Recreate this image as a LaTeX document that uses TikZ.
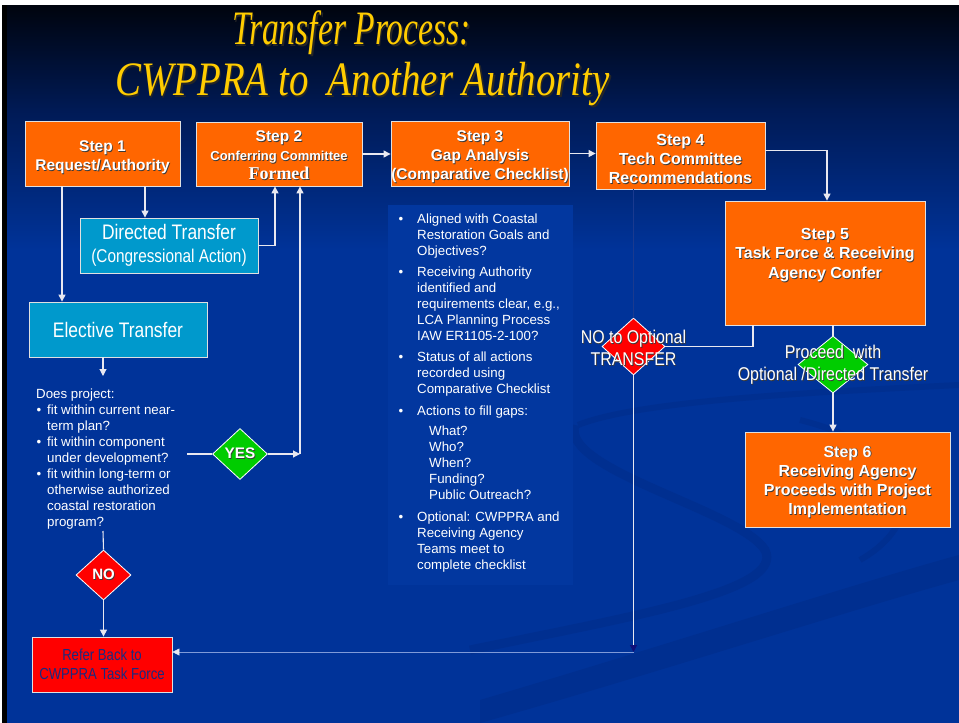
\documentclass[tikz,border=0pt]{standalone}
\usepackage{fontspec}
\setmainfont{Liberation Sans}
\newfontfamily\ttlfont{Liberation Serif}
\usetikzlibrary{arrows.meta,shapes.geometric,calc}
\definecolor{orangec}{HTML}{FF6600}
\definecolor{cyanc}{HTML}{0099CC}
\definecolor{redc}{HTML}{FF0000}
\definecolor{greenc}{HTML}{00CC00}
\definecolor{gold}{HTML}{FFCC00}
\definecolor{bgblue}{HTML}{003399}
\definecolor{bgmid}{HTML}{001A55}
\definecolor{bgtop}{HTML}{00040E}
\definecolor{linec}{HTML}{E8E8F0}
\definecolor{boxline}{HTML}{E0E0E0}
\definecolor{shadc}{HTML}{3A3A3A}
\definecolor{referc}{HTML}{1A2A80}
\definecolor{faint}{HTML}{1A3A8F}
\definecolor{thinc}{HTML}{7F9AD8}
\definecolor{navyhead}{HTML}{10107A}
\definecolor{panelc}{HTML}{02379F}
\definecolor{swoosh}{HTML}{002F90}
\newcommand\shd[1]{\leavevmode\rlap{\kern0.8pt\raisebox{-0.8pt}{\textcolor{shadc}{#1}}}#1}
\newcommand\shdt[1]{\leavevmode\rlap{\kern2pt\raisebox{-2pt}{\textcolor{black!85}{#1}}}#1}
\newcommand\nrw[2]{\scalebox{#1}[1]{#2}}
\begin{document}
\begin{tikzpicture}[x=1pt,y=-1pt,
 stepbox/.style={draw=boxline,line width=0.8pt,fill=orangec,inner sep=0pt},
 steptext/.style={text=white,font=\bfseries\fontsize{15.5}{19}\selectfont,align=center,inner sep=0pt},
 cyanbox/.style={draw=boxline,line width=0.8pt,fill=cyanc,text=white,align=center,inner sep=0pt},
 dia/.style={diamond,draw=white,line width=0.8pt,inner sep=0pt},
 arr/.style={draw=linec,line width=1.1pt,-{Triangle[width=7pt,length=7pt]}},
 conn/.style={draw=linec,line width=1.1pt},
 btext/.style={text=white,font=\fontsize{13.3}{16}\selectfont,inner sep=0pt,anchor=base west},
 bul/.style={text=white,font=\fontsize{13.3}{16}\selectfont,inner sep=0pt,anchor=base},
 lbl/.style={text=white,align=center,inner sep=0pt,font=\fontsize{18.5}{22}\selectfont}]
\useasboundingbox (0,0) rectangle (959,723);
% background
\fill[white] (0,0) rectangle (959,723);
\fill[black] (2,5) rectangle (7,723);
\shade[top color=bgtop,bottom color=bgmid] (7,5) rectangle (959,110);
\shade[top color=bgmid,bottom color=bgblue] (7,109.5) rectangle (959,250);
\fill[bgblue] (7,249.5) rectangle (959,723);
% swooshes
\fill[swoosh] (480,700) .. controls (650,650) and (850,585) .. (959,555) -- (959,580) .. controls (850,610) and (650,675) .. (480,723) -- cycle;
\draw[swoosh,line width=9pt] (575,425) .. controls (560,470) and (740,510) .. (765,550) .. controls (785,590) and (640,615) .. (470,650);
\draw[swoosh,line width=6pt] (578,425) .. controls (640,400) and (820,392) .. (959,385);
\draw[swoosh,line width=6pt] (800,420) .. controls (920,450) and (930,520) .. (860,560);
% panel behind step 3 bullets
\fill[panelc] (388,205) rectangle (573,585);
% title
\node[anchor=base west,inner sep=0,text=gold] (title1) at (232,44)
  {\fontsize{48}{48}\ttlfont\itshape\nrw{0.70}{\shdt{Transfer Process:}}};
\node[anchor=base west,inner sep=0,text=gold] (title2) at (115,95)
  {\fontsize{48}{48}\ttlfont\itshape\nrw{0.81}{\shdt{CWPPRA to\ \ Another Authority}}};
% step boxes
\node[stepbox,minimum width=155pt,minimum height=65pt] (s1) at (102.5,153.5) {};
\node[steptext] (s1t) at (102.5,157.5) {\shd{Step 1}\\\shd{Request/Authority}};
\node[stepbox,minimum width=166pt,minimum height=64pt] (s2) at (279,154) {};
\node[steptext] (s2t) at (279,156)
  {\shd{Step 2}\\{\fontsize{13}{17}\selectfont\shd{Conferring Committee}}\\{\ttlfont\fontsize{18}{19}\selectfont\shd{Formed}}};
\node[stepbox,minimum width=178pt,minimum height=65pt] (s3) at (480,153.5) {};
\node[steptext] (s3t) at (480,157.5) {\shd{Step 3}\\\shd{Gap Analysis}\\\shd{(Comparative Checklist)}};
\node[stepbox,minimum width=169pt,minimum height=67pt] (s4) at (680.5,155.5) {};
\node[steptext,font=\bfseries\fontsize{16}{19}\selectfont] (s4t) at (680.5,159.5)
  {\shd{Step 4}\\\shd{Tech Committee}\\\shd{Recommendations}};
\node[stepbox,minimum width=200pt,minimum height=124pt] (s5) at (825,263) {};
\node[steptext,font=\bfseries\fontsize{16}{19.5}\selectfont] (s5t) at (825,255.5)
  {\shd{Step 5}\\\shd{Task Force \& Receiving}\\\shd{Agency Confer}};
\node[stepbox,minimum width=205pt,minimum height=95pt] (s6) at (847.5,479.5) {};
\node[steptext,font=\bfseries\fontsize{16}{19.3}\selectfont] (s6t) at (847.5,482.5)
  {\shd{Step 6}\\\shd{Receiving Agency}\\\shd{Proceeds with Project}\\\shd{Implementation}};
% cyan boxes
\node[cyanbox,minimum width=178pt,minimum height=55pt] (dt) at (169,245.5)
  {{\fontsize{21}{24}\selectfont\nrw{0.83}{Directed Transfer}}\\[9pt]{\fontsize{18.5}{22}\selectfont\nrw{0.83}{(Congressional Action)}}};
\node[cyanbox,minimum width=178pt,minimum height=55pt] (el) at (118,329.5)
  {\fontsize{21}{24}\selectfont\nrw{0.83}{Elective Transfer}};
% refer back
\node[draw=boxline,line width=0.8pt,fill=redc,text=referc,align=center,inner sep=0pt,
  minimum width=140pt,minimum height=55pt,font=\fontsize{16}{19}\selectfont] (rb) at (102,664.5)
  {\nrw{0.82}{Refer Back to}\\\nrw{0.82}{CWPPRA Task Force}};
% diamonds
\node[dia,fill=greenc,minimum width=55pt,minimum height=51pt,text=white,font=\bfseries\fontsize{15.3}{17}\selectfont] (yes) at (240,454) {\shd{YES}};
\node[dia,fill=redc,minimum width=55pt,minimum height=50pt,text=white,font=\bfseries\fontsize{15}{17}\selectfont] (no) at (103.5,575) {\shd{NO}};
\node[dia,fill=redc,minimum width=63pt,minimum height=57pt] (noopt) at (633.5,346.5) {};
\node[dia,fill=greenc,minimum width=70pt,minimum height=57pt] (go) at (833,364.5) {};
% "Does project" text
\node[btext] (dp0) at (36,398.5) {Does project:};
\foreach \yy/\txt [count=\i] in {414.5/fit within current near-,430.5/term plan?,446.5/fit within component,462.5/under development?,478.5/fit within long-term or,494.5/otherwise authorized,510.5/coastal restoration,526.5/program?}
  \node[btext] (dp\i) at (47,\yy) {\txt};
\foreach \yy [count=\i] in {414.5,446.5,478.5}
  \node[bul] (dpb\i) at (39,\yy) {\textbullet};
% step 3 bullets
\foreach \yy/\xx/\txt [count=\i] in {223.5/417/Aligned with Coastal,239.5/417/Restoration Goals and,255.5/417/Objectives?,
  276.2/417/Receiving Authority,292.2/417/identified and,308.2/417/{requirements clear, e.g.,},324.2/417/LCA Planning Process,340.2/417/IAW ER1105-2-100?,
  361.2/417/Status of all actions,377.2/417/recorded using,393.2/417/Comparative Checklist,
  415.2/417/Actions to fill gaps:,435.2/429/What?,451.2/429/Who?,467.5/429/When?,483.5/429/Funding?,499.5/429/Public Outreach?,
  521.2/417/Optional: CWPPRA and,537.2/417/Receiving Agency,553.2/417/Teams meet to,569.2/417/complete checklist}
  \node[btext] (g\i) at (\xx,\yy) {\txt};
\foreach \yy [count=\i] in {223.5,276.2,361.2,415.2,521.2}
  \node[bul] (gb\i) at (401,\yy) {\textbullet};
% coordinates
\coordinate (k1) at (62,0);
\coordinate (k2) at (145,0);
\coordinate (k3) at (275,0);
\coordinate (k4) at (103,376);
\coordinate (k5) at (827,0);
\coordinate (k6) at (753,0);
\coordinate (k7) at (633.5,652);
\coordinate (k8) at (103,531);
\coordinate (k9) at (187,454);
\coordinate (k10) at (300,454);
% connectors
\draw[arr] (s1.south -| k1) -- (el.north -| k1);
\draw[arr] (s1.south -| k2) -- (dt.north -| k2);
\draw[arr] (dt.east) -| (s2.south -| k3);
\draw[arr] (s2.east) -- (s3.west |- s2.east);
\draw[arr] (s3.east) -- (s4.west |- s3.east);
\draw[arr] ([yshift=5pt]s4.east) -| (s5.north -| k5);
\draw[arr] (el.south -| k4) -- (k4);
\draw[conn] (k9) -- (yes.west);
\draw[arr] (yes.east) -- (k10);
\draw[arr] (k10) -- (s2.south -| k10);
\draw[conn] (k8) -- (no.north);
\draw[arr] (no.south) -- (rb.north -| no.south);
\draw[faint,line width=1pt] (s4.south -| noopt.north) -- (noopt.north);
\draw[conn] (s5.south -| k6) |- (noopt.east);
\draw[conn] (go.north |- s5.south) -- (go.north);
\draw[arr] (go.south) -- (s6.north -| go.south);
\draw[draw=linec,line width=1.1pt,-{Triangle[width=7pt,length=7pt,fill=navyhead,color=navyhead]}] (noopt.south) -- (k7);
\draw[draw=thinc,line width=0.6pt,-{Triangle[width=7pt,length=7pt,fill=linec,color=linec]}] (k7) -- (rb.east |- k7);
% diamond labels
\node[lbl] (nooptl) at (633.5,348) {\shd{\nrw{0.86}{NO to Optional}}\\\shd{\nrw{0.86}{TRANSFER}}};
\node[lbl] (gol) at (833,365) {\shd{\nrw{0.86}{Proceed\ \ with}}\\\shd{\nrw{0.86}{Optional /Directed Transfer}}};
\end{tikzpicture}
\end{document}
